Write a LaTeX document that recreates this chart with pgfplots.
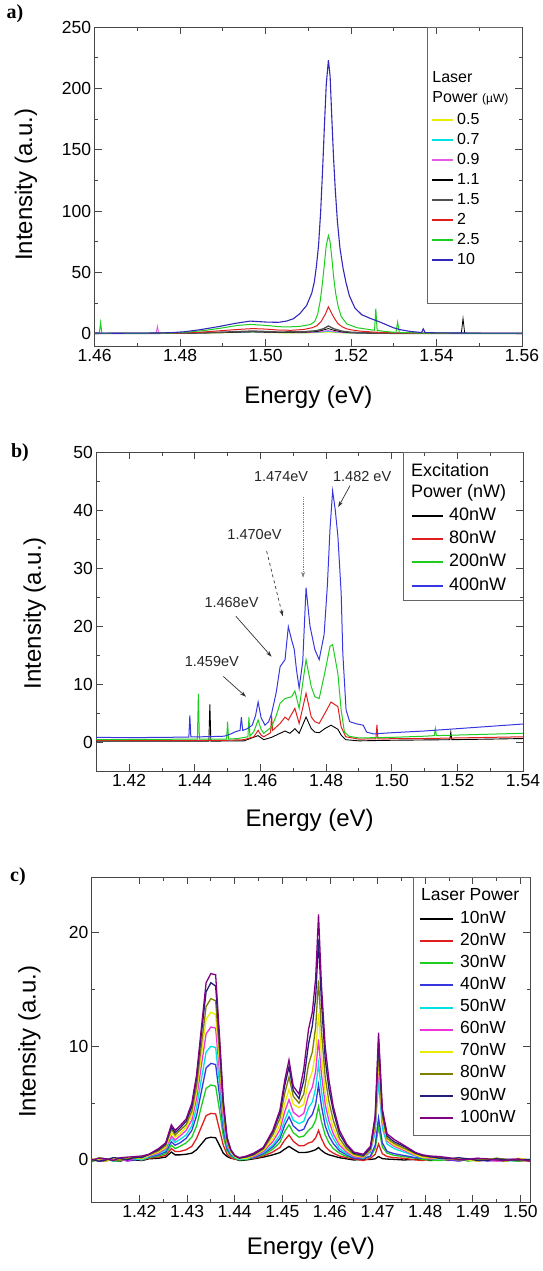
\documentclass[border=0pt]{standalone}
\usepackage{fontspec}
\setmainfont{Liberation Sans}
\newfontfamily\tnr{Liberation Serif}
\usepackage{pgfplots}
\usepackage{pgfplotstable}
\pgfplotsset{compat=1.18}
\usetikzlibrary{arrows.meta}

\definecolor{cYel}{RGB}{235,235,0}
\definecolor{cCya}{RGB}{0,225,225}
\definecolor{cMag}{RGB}{230,90,230}
\definecolor{cGry}{RGB}{80,80,80}
\definecolor{cRed}{RGB}{225,30,30}
\definecolor{cGrn}{RGB}{30,205,30}
\definecolor{cBlu}{RGB}{50,40,185}
\definecolor{cBlu2}{RGB}{55,55,225}
\definecolor{cPnk}{RGB}{240,50,220}
\definecolor{cOli}{RGB}{128,128,0}
\definecolor{cNav}{RGB}{35,30,120}
\definecolor{cPur}{RGB}{130,0,130}
\definecolor{axc}{RGB}{70,70,70}

\pgfplotstableread{
x p10 p20 p30 p40 p50 p60 p70 p80 p90 p100
1.410 -0.1 0.05 -0.15 0.1 -0.05 0.0 0.1 -0.1 0.05 0.0
1.4115 0.1 -0.1 0.05 -0.1 0.15 -0.05 0.0 0.2 -0.1 0.15
1.413 0.05 -0.1 0.1 -0.05 0.1 0.05 -0.1 0.1 0.0 0.1
1.4145 -0.05 0.1 -0.1 0.15 -0.1 0.1 0.15 -0.05 0.2 -0.05
1.416 -0.1 0.0 -0.05 0.1 0.0 0.1 0.05 0.0 0.15 0.2
1.4175 0.1 -0.05 0.15 -0.1 0.05 -0.1 0.2 0.1 0.0 0.25
1.419 0.0 0.1 0.05 0.0 0.1 0.15 0.2 0.15 0.25 0.3
1.4205 -0.05 0.0 0.1 0.15 0.0 0.25 0.1 0.3 0.2 0.35
1.422 0.1 0.15 0.2 0.25 0.3 0.35 0.4 0.45 0.5 0.5
1.424 0.15 0.25 0.35 0.45 0.55 0.6 0.7 0.8 0.9 1.0
1.4255 0.25 0.4 0.55 0.7 0.85 1.0 1.1 1.25 1.4 1.5
1.4267 0.7 1.0 1.3 1.6 1.9 2.1 2.4 2.7 2.9 3.1
1.4275 0.45 0.75 1.0 1.3 1.55 1.75 2.0 2.2 2.4 2.6
1.4285 0.45 0.75 1.2 1.5 1.8 2.1 2.3 2.6 2.8 3.0
1.4298 0.5 0.9 1.5 1.9 2.2 2.6 2.9 3.1 3.4 3.6
1.431 0.6 1.2 2.0 2.6 3.0 3.5 3.9 4.3 4.7 5.0
1.432 0.9 1.9 3.0 3.9 4.6 5.4 6.0 6.5 7.2 7.5
1.433 1.4 2.9 4.7 6.0 7.1 8.3 9.2 10.1 11.1 11.6
1.434 1.9 3.9 6.3 8.1 9.5 11.1 12.4 13.5 14.8 15.6
1.435 2.0 4.1 6.6 8.5 10.0 11.7 13.0 14.2 15.6 16.4
1.436 1.95 4.05 6.5 8.4 9.9 11.6 12.8 14.0 15.3 16.3
1.4368 1.3 2.7 4.4 5.7 6.7 7.8 8.7 9.5 10.5 11.0
1.4376 0.6 1.3 2.1 2.7 3.2 3.7 4.2 4.5 5.0 5.3
1.4384 0.3 0.5 0.8 1.0 1.2 1.4 1.6 1.7 1.9 2.0
1.4392 0.15 0.2 0.35 0.45 0.55 0.65 0.7 0.8 0.85 0.9
1.440 0.1 0.05 0.15 0.2 0.2 0.3 0.3 0.35 0.4 0.4
1.441 -0.05 0.1 0.0 0.1 0.05 0.15 0.1 0.2 0.15 0.2
1.4425 0.0 0.1 0.05 0.15 0.1 0.2 0.15 0.25 0.3 0.35
1.444 0.1 0.15 0.2 0.2 0.3 0.3 0.4 0.45 0.5 0.6
1.446 0.25 0.35 0.45 0.55 0.65 0.75 0.85 0.95 1.05 1.1
1.448 0.45 0.7 0.95 1.15 1.3 1.6 1.85 2.2 2.45 2.6
1.4495 0.65 1.1 1.55 1.9 2.2 2.65 3.1 3.65 4.1 4.4
1.4505 0.95 1.75 2.5 3.05 3.5 4.25 4.95 5.85 6.55 7.0
1.4514 1.2 2.2 3.1 3.8 4.4 5.3 6.2 7.3 8.2 8.8
1.4523 0.95 1.65 2.4 3.0 3.5 4.2 4.9 5.6 6.1 6.5
1.4535 0.65 1.25 2.0 2.55 3.2 3.8 4.6 5.0 5.4 5.8
1.4545 0.65 1.25 2.1 2.7 3.4 4.1 4.9 5.8 7.0 8.0
1.4555 0.7 1.5 2.6 3.6 4.6 5.7 6.9 8.4 10.2 11.5
1.4563 0.8 1.6 2.9 4.0 5.1 6.4 7.8 9.5 11.8 13.0
1.457 0.9 1.95 3.5 4.9 6.3 7.8 9.5 11.7 14.3 16.0
1.4576 1.1 2.6 4.7 6.6 8.5 10.6 12.9 15.8 19.4 21.6
1.4582 0.85 1.9 3.4 4.8 6.1 7.6 9.3 11.4 14.0 15.5
1.459 0.6 1.2 2.2 3.0 3.9 4.9 5.9 7.3 8.9 10.0
1.4598 0.45 0.85 1.5 2.1 2.7 3.4 4.1 5.1 6.2 7.0
1.4607 0.35 0.6 1.0 1.45 1.9 2.3 2.8 3.5 4.3 4.7
1.462 0.2 0.35 0.6 0.8 1.0 1.3 1.55 1.9 2.3 2.6
1.4635 0.1 0.2 0.3 0.45 0.55 0.7 0.85 1.0 1.25 1.4
1.465 0.0 0.1 0.2 0.15 0.3 0.3 0.4 0.5 0.6 0.7
1.467 0.05 -0.05 0.1 0.1 0.15 0.2 0.25 0.3 0.4 0.5
1.4685 0.05 0.15 0.3 0.35 0.7 0.8 0.9 0.95 1.05 1.2
1.4695 0.1 0.5 1.0 1.3 2.45 2.85 3.1 3.3 3.7 3.9
1.4702 0.3 1.4 2.9 3.7 7.0 8.2 8.8 9.5 10.5 11.2
1.471 0.12 0.55 1.15 1.5 2.8 3.3 3.5 3.8 4.2 4.5
1.472 0.08 0.3 0.6 0.75 1.4 1.65 1.75 1.9 2.1 2.3
1.4735 0.05 0.2 0.4 0.55 1.0 1.2 1.3 1.45 1.6 1.8
1.4755 0.0 0.15 0.3 0.4 0.7 0.85 0.95 1.05 1.2 1.3
1.478 0.05 0.0 0.15 0.2 0.35 0.4 0.45 0.55 0.6 0.65
1.4795 0.1 -0.05 0.05 0.15 0.2 0.25 0.2 0.35 0.4 0.45
1.481 -0.05 0.1 0.0 0.1 0.15 0.1 0.2 0.25 0.3 0.35
1.483 0.0 0.1 -0.05 0.1 0.05 0.15 0.1 0.2 0.15 0.3
1.485 0.1 -0.05 0.05 0.0 0.1 0.05 0.1 0.15 0.1 0.2
1.487 -0.05 0.05 0.1 -0.1 0.15 0.0 0.15 0.0 0.2 0.05
1.489 0.0 0.1 -0.1 0.05 0.0 0.1 0.0 0.05 0.1 0.05
1.491 0.1 -0.1 0.0 0.1 -0.05 0.15 -0.1 0.1 -0.05 0.15
1.493 0.05 0.0 0.05 -0.1 0.05 -0.05 0.1 0.0 -0.05 0.1
1.495 -0.05 0.1 0.15 0.0 0.1 -0.1 0.05 0.15 0.1 0.0
1.497 -0.1 0.05 0.0 0.05 -0.05 0.0 -0.1 0.05 0.0 -0.05
1.4995 0.1 0.0 -0.1 0.1 -0.1 0.1 0.15 -0.1 0.0 0.1
1.502 0.0 -0.1 0.05 0.0 0.05 -0.1 0.0 -0.05 0.05 -0.1
}\tabc

\pgfplotsset{
  myaxis/.style={
    scale only axis,
    axis line style={draw=axc, line width=0.9pt},
    tick align=inside,
    major tick length=7pt, minor tick length=3.5pt,
    every tick/.style={draw=axc, line width=0.8pt},
    tick label style={font=\fontsize{17.5}{20}\selectfont},
    /pgf/number format/assume math mode=true,
    xticklabel style={/pgf/number format/.cd, fixed, fixed zerofill, precision=2},
    every axis y label/.style={at={(axis description cs:-0.16,0.5)}, rotate=90, anchor=center, font=\fontsize{24}{28}\selectfont},
    every axis x label/.style={at={(axis description cs:0.5,-0.16)}, anchor=center, font=\fontsize{24}{28}\selectfont},
    xlabel={Energy (eV)},
    ylabel={Intensity (a.u.)},
    legend cell align=left,
    minor x tick num=1, minor y tick num=1,
  }
}

\begin{document}
\begin{tikzpicture}
\path[use as bounding box] (0pt,0pt) rectangle (543pt,-1271pt);

\node[font=\tnr\bfseries\fontsize{20}{22}\selectfont] at (15pt,-14pt) {a)};
\node[font=\tnr\bfseries\fontsize{20}{22}\selectfont] at (20pt,-453pt) {b)};
\node[font=\tnr\bfseries\fontsize{20}{22}\selectfont] at (18pt,-877pt) {c)};

% ---------------- panel a
\begin{axis}[myaxis, at={(94.6pt,-346pt)}, anchor=south west,
  width=427.4pt, height=319pt,
  xmin=1.46, xmax=1.56, ymin=-10, ymax=250,
  xtick={1.46,1.48,...,1.561}, ytick={0,50,...,250},
  ylabel style={at={(axis description cs:-0.1605,0.505)}},
  xlabel style={at={(axis description cs:0.5,-0.16)}},
  legend style={at={(rel axis cs:0.787,0.740)}, anchor=north west, draw=none, fill=none,
    inner sep=0pt, font=\fontsize{16}{16}\selectfont,
    nodes={inner xsep=1pt, inner ysep=3pt, text height=11pt, text depth=3pt},
    /tikz/every odd column/.append style={column sep=2pt}},
  legend image code/.code={\draw[#1, line width=2pt] (0pt,0pt) -- (21pt,0pt);},
]
\addplot[cYel, line width=0.9pt] coordinates {(1.46,0.2)(1.47,0.2)(1.48,0.3)(1.487,0.6)(1.492,0.9)(1.497,1.1)(1.502,0.8)(1.508,0.6)(1.512,0.8)(1.5147,1.4)(1.517,0.8)(1.52,0.5)(1.53,0.3)(1.56,0.2)};
\addlegendentry{0.5}
\addplot[cCya, line width=0.9pt] coordinates {(1.46,0.2)(1.47,0.3)(1.48,0.4)(1.487,0.8)(1.492,1.1)(1.497,1.4)(1.502,1)(1.508,0.8)(1.512,1.1)(1.5147,2.0)(1.517,1.1)(1.52,0.6)(1.53,0.3)(1.56,0.2)};
\addlegendentry{0.7}
\addplot[cMag, line width=0.9pt] coordinates {(1.46,0.3)(1.4744,0.3)(1.4747,6)(1.475,0.3)(1.48,0.4)(1.487,0.9)(1.492,1.3)(1.497,1.6)(1.502,1.1)(1.508,0.9)(1.512,1.3)(1.5147,2.6)(1.517,1.3)(1.52,0.7)(1.53,0.4)(1.56,0.3)};
\addlegendentry{0.9}
\addplot[black, line width=0.8pt] coordinates {(1.46,0.1)(1.48,0.3)(1.49,0.9)(1.497,1.6)(1.503,1)(1.509,1.2)(1.512,1.8)(1.5135,3)(1.5147,4.2)(1.516,2.8)(1.518,1.4)(1.52,0.8)(1.525,0.4)(1.545,0.2)(1.5458,0.2)(1.5462,12.5)(1.5466,0.2)(1.56,0.1)};
\addlegendentry{1.1}
\addplot[cGry, line width=1.4pt] coordinates {(1.46,0.2)(1.48,0.4)(1.49,1.3)(1.497,2.2)(1.503,1.4)(1.509,1.6)(1.512,2.5)(1.5135,4)(1.5147,6.3)(1.516,4)(1.518,2)(1.52,1.2)(1.525,0.6)(1.53,0.3)(1.56,0.2)};
\addlegendentry{1.5}
\addplot[cRed, line width=1pt] coordinates {(1.46,0.3)(1.47,0.3)(1.48,0.6)(1.485,1.3)(1.49,2.6)(1.494,3.6)(1.497,4.2)(1.5,3.8)(1.503,3)(1.506,2.8)(1.509,3.5)(1.511,5)(1.512,6.5)(1.513,10)(1.514,16)(1.5147,22)(1.5154,17)(1.5162,12)(1.517,8)(1.518,5.5)(1.519,4)(1.52,3.2)(1.522,2.2)(1.525,1.4)(1.53,0.7)(1.54,0.4)(1.56,0.3)};
\addlegendentry{2}
\addplot[cGrn, line width=1pt] coordinates {(1.46,0.3)(1.4611,0.3)(1.4614,9)(1.4617,0.3)(1.47,0.3)(1.478,0.6)(1.482,1.4)(1.486,2.8)(1.49,4.8)(1.4935,6.8)(1.4964,7.6)(1.5,6.8)(1.503,5.8)(1.5049,5.5)(1.508,6)(1.5105,7.5)(1.5115,10)(1.5122,16)(1.5128,27)(1.5133,41)(1.5138,58)(1.5142,72)(1.5147,80)(1.5151,75)(1.5155,62)(1.5159,47)(1.5164,33)(1.517,22)(1.5177,14)(1.519,8)(1.5214,4.9)(1.5245,3.3)(1.5255,2.8)(1.5258,20.5)(1.5261,2.8)(1.528,1.8)(1.5305,1.1)(1.5309,9.5)(1.5313,1.0)(1.535,0.6)(1.545,0.4)(1.56,0.3)};
\addlegendentry{2.5}
\addplot[cBlu, line width=1.1pt] coordinates {(1.46,0.6)(1.465,0.4)(1.47,0.5)(1.475,0.6)(1.478,0.9)(1.481,1.6)(1.4847,3.3)(1.4893,6)(1.493,8.5)(1.4964,10.3)(1.5002,9.5)(1.503,9.3)(1.5049,10.3)(1.5065,12.2)(1.508,16.3)(1.5096,23)(1.5108,33)(1.5114,42)(1.5119,55)(1.5124,72)(1.5129,100)(1.5134,138)(1.5138,172)(1.5142,203)(1.5147,223)(1.5151,210)(1.5155,176)(1.5159,144)(1.5163,118)(1.5168,92)(1.5174,70)(1.5181,54)(1.5188,42)(1.5196,31)(1.5209,21)(1.5225,15.5)(1.5245,12.5)(1.5268,9.5)(1.5299,4.9)(1.5315,3.3)(1.534,1.8)(1.5365,1.0)(1.5369,4)(1.5373,1.0)(1.54,0.7)(1.55,0.5)(1.56,0.5)};
\addlegendentry{10}
\draw[black!60, line width=0.7pt] (rel axis cs:0.778,1) rectangle (rel axis cs:1,0.135);
\node[anchor=west, font=\fontsize{16}{16}\selectfont, inner sep=0pt] at (rel axis cs:0.790,0.843) {Laser};
\node[anchor=west, font=\fontsize{16}{16}\selectfont, inner sep=0pt] at (rel axis cs:0.790,0.777) {Power {\fontsize{12}{12}\selectfont(µW)}};
\end{axis}

% ---------------- panel b
\begin{axis}[myaxis, at={(96.3pt,-771pt)}, anchor=south west,
  width=426.7pt, height=319pt,
  xmin=1.41, xmax=1.54, ymin=-5, ymax=50,
  xtick={1.42,1.44,...,1.541}, ytick={0,10,...,50},
  ylabel style={at={(axis description cs:-0.1446,0.495)}},
  xlabel style={at={(axis description cs:0.5,-0.154)}},
  legend style={at={(rel axis cs:0.7375,0.837)}, anchor=north west, draw=none, fill=none,
    inner sep=0pt, font=\fontsize{18}{18}\selectfont,
    nodes={inner xsep=1pt, inner ysep=3.5pt, text height=12.5pt, text depth=3.8pt},
    /tikz/every odd column/.append style={column sep=4pt}},
  legend image code/.code={\draw[#1, line width=2pt] (0pt,0pt) -- (31pt,0pt);},
]
\addplot[black, line width=0.9pt] coordinates {(1.41,0.15)(1.43,0.15)(1.4443,0.15)(1.4446,6.5)(1.4449,0.15)(1.455,0.2)(1.4593,1.1)(1.461,0.4)(1.4634,0.8)(1.466,1.5)(1.4675,1.9)(1.469,1.5)(1.4705,2.3)(1.4718,1.5)(1.4739,4.3)(1.4755,2.3)(1.4766,1.7)(1.4779,1.6)(1.4796,2.3)(1.4815,2.9)(1.4836,2.2)(1.4846,1.2)(1.486,0.4)(1.49,0.2)(1.50,0.3)(1.5177,0.4)(1.518,1.7)(1.5183,0.4)(1.53,0.5)(1.54,0.6)};
\addlegendentry{40nW}
\addplot[cRed, line width=1pt] coordinates {(1.41,0.3)(1.43,0.3)(1.45,0.3)(1.455,0.4)(1.458,0.9)(1.4593,2.0)(1.4602,1.2)(1.461,0.9)(1.4628,1.5)(1.4631,1.6)(1.4634,4.6)(1.4637,2)(1.466,3.2)(1.4675,4.3)(1.4685,3.8)(1.4705,5.8)(1.4718,3.2)(1.4739,8.4)(1.4755,4.3)(1.4766,3.5)(1.4779,3.2)(1.4796,4.9)(1.4815,6.9)(1.4836,6.1)(1.4846,2.6)(1.486,0.9)(1.49,0.5)(1.4952,0.55)(1.4955,3.0)(1.4958,0.55)(1.51,0.6)(1.52,0.7)(1.53,0.8)(1.54,0.9)};
\addlegendentry{80nW}
\addplot[cGrn, line width=1pt] coordinates {(1.41,0.4)(1.425,0.45)(1.4408,0.5)(1.4411,8.3)(1.4414,0.5)(1.4497,0.5)(1.45,3.5)(1.4503,0.5)(1.453,0.6)(1.4562,0.9)(1.4565,4.3)(1.4568,1.0)(1.458,1.8)(1.4593,3.8)(1.4602,2.2)(1.461,1.5)(1.4634,2.6)(1.4648,4.5)(1.466,6.7)(1.4675,7.5)(1.4695,7.8)(1.4705,8.8)(1.4718,5.8)(1.4739,14.2)(1.4755,9.5)(1.4766,7.8)(1.4779,7.5)(1.4796,11.9)(1.4812,16.5)(1.482,16.8)(1.4836,11.8)(1.4846,5.5)(1.4856,1.7)(1.487,1.0)(1.49,0.7)(1.50,0.8)(1.51,1.0)(1.5130,1.1)(1.5133,2.3)(1.5136,1.1)(1.52,1.2)(1.53,1.35)(1.54,1.5)};
\addlegendentry{200nW}
\addplot[cBlu2, line width=1pt] coordinates {(1.41,0.8)(1.42,0.75)(1.43,0.8)(1.4382,0.85)(1.4385,4.6)(1.4388,0.9)(1.442,0.9)(1.446,0.95)(1.449,1.0)(1.451,1.4)(1.4525,1.8)(1.4538,2.0)(1.4542,4.3)(1.4546,2.0)(1.456,2.3)(1.4575,2.9)(1.4585,4.5)(1.4593,6.9)(1.4602,4.2)(1.4614,2.9)(1.4625,3.5)(1.4634,4.9)(1.4648,8.5)(1.466,13)(1.4675,14.2)(1.4685,19.9)(1.4695,17.6)(1.4703,16)(1.471,12.4)(1.4718,9.3)(1.4729,13.9)(1.4739,26.6)(1.4751,20)(1.4766,15.9)(1.4779,14.2)(1.4794,18.5)(1.4804,27)(1.4812,36.7)(1.482,43.3)(1.4828,40)(1.4836,35.5)(1.4846,25.7)(1.4851,15.3)(1.4861,5.5)(1.4872,3.5)(1.4895,3.1)(1.4913,2.9)(1.4924,1.7)(1.4945,1.4)(1.50,1.6)(1.51,1.9)(1.52,2.3)(1.53,2.7)(1.54,3.1)};
\addlegendentry{400nW}
\draw[black!60, line width=0.7pt] (rel axis cs:0.719,1) rectangle (rel axis cs:1,0.536);
\node[anchor=west, font=\fontsize{18}{18}\selectfont, inner sep=0pt] at (rel axis cs:0.7375,0.944) {Excitation};
\node[anchor=west, font=\fontsize{18}{18}\selectfont, inner sep=0pt] at (rel axis cs:0.7375,0.871) {Power (nW)};
\begin{scope}[font=\fontsize{14.5}{16}\selectfont, black!85]
\node at (axis cs:1.4663,45.8) {1.474eV};
\node at (axis cs:1.4910,45.8) {1.482 eV};
\node at (axis cs:1.4582,35.7) {1.470eV};
\node at (axis cs:1.4512,24.1) {1.468eV};
\node at (axis cs:1.4452,13.9) {1.459eV};
\end{scope}
\draw[-{Stealth[length=6pt,width=4pt]}, gray, densely dotted, line width=0.8pt] (axis cs:1.4730,42.2) -- (axis cs:1.4730,28.3);
\draw[-{Stealth[length=6pt,width=4pt]}, black!80, line width=0.7pt] (axis cs:1.4873,44.2) -- (axis cs:1.4837,40.5);
\draw[-{Stealth[length=6pt,width=4pt]}, black!80, dashed, line width=0.7pt] (axis cs:1.4619,32.9) -- (axis cs:1.4668,21.7);
\draw[-{Stealth[length=6pt,width=4pt]}, black!80, line width=0.7pt] (axis cs:1.4525,21.7) -- (axis cs:1.4634,14.7);
\draw[-{Stealth[length=6pt,width=4pt]}, black!80, line width=0.7pt] (axis cs:1.4487,11.3) -- (axis cs:1.4556,7.8);
\end{axis}

% ---------------- panel c
\begin{axis}[myaxis, at={(91.8pt,-1202pt)}, anchor=south west,
  width=438.2pt, height=325pt,
  xmin=1.41, xmax=1.502, ymin=-3.7, ymax=24.9,
  xtick={1.42,1.43,...,1.501}, ytick={0,10,20},
  ylabel style={at={(axis description cs:-0.1424,0.493)}},
  xlabel style={at={(axis description cs:0.5,-0.1415)}},
  legend style={at={(rel axis cs:0.7467,0.905)}, anchor=north west, draw=none, fill=none,
    inner sep=0pt, font=\fontsize{17.5}{17.5}\selectfont,
    nodes={inner xsep=1pt, inner ysep=3.2pt, text height=12pt, text depth=3.7pt},
    /tikz/every odd column/.append style={column sep=5pt}},
  legend image code/.code={\draw[#1, line width=2pt] (0pt,0pt) -- (33pt,0pt);},
]
\addplot[black, line width=1.3pt] table[x=x,y=p10]{\tabc};
\addlegendentry{10nW}
\addplot[cRed, line width=1.3pt] table[x=x,y=p20]{\tabc};
\addlegendentry{20nW}
\addplot[cGrn, line width=1.3pt] table[x=x,y=p30]{\tabc};
\addlegendentry{30nW}
\addplot[cBlu2, line width=1.3pt] table[x=x,y=p40]{\tabc};
\addlegendentry{40nW}
\addplot[cCya, line width=1.3pt] table[x=x,y=p50]{\tabc};
\addlegendentry{50nW}
\addplot[cPnk, line width=1.3pt] table[x=x,y=p60]{\tabc};
\addlegendentry{60nW}
\addplot[cYel, line width=1.3pt] table[x=x,y=p70]{\tabc};
\addlegendentry{70nW}
\addplot[cOli, line width=1.3pt] table[x=x,y=p80]{\tabc};
\addlegendentry{80nW}
\addplot[cNav, line width=1.3pt] table[x=x,y=p90]{\tabc};
\addlegendentry{90nW}
\addplot[cPur, line width=1.3pt] table[x=x,y=p100]{\tabc};
\addlegendentry{100nW}
\draw[black!60, line width=0.7pt] (rel axis cs:0.733,1) rectangle (rel axis cs:1,0.206);
\node[anchor=west, font=\fontsize{17.5}{17.5}\selectfont, inner sep=0pt] at (rel axis cs:0.751,0.945) {Laser Power};
\end{axis}
\end{tikzpicture}
\end{document}
